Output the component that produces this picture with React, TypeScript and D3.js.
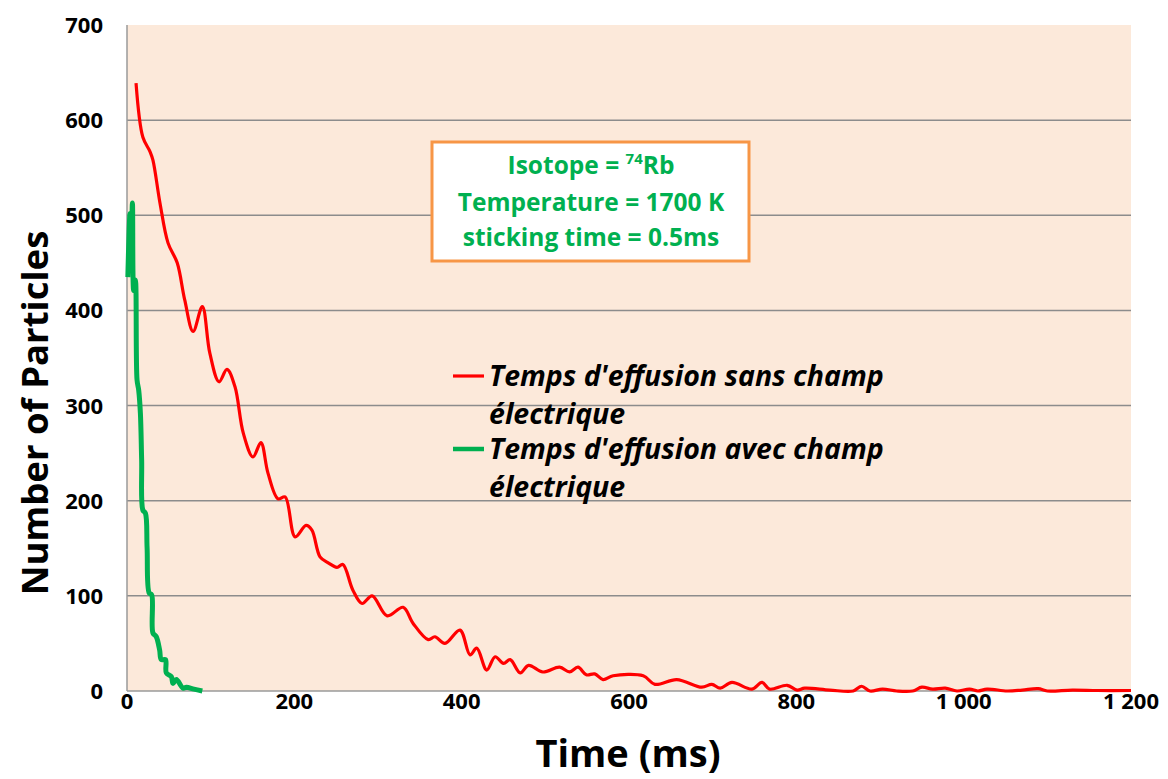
import React from "react";
import * as d3 from "d3";

const redTime = [10.8, 19, 27.5, 31, 39.4, 49, 60, 69, 79, 90, 99, 110, 119.5, 129, 139, 150.6, 160, 168.5, 180.5, 189, 201, 214, 221, 230.7, 240, 251, 258, 270, 281, 293, 311, 330, 342, 360, 368, 380, 398, 410, 418, 430, 440, 450, 458, 470, 480, 497, 517, 529, 539, 549, 559, 569, 581, 617, 631, 657, 687, 699, 709, 723, 747, 759, 768, 789, 801, 810, 840, 868, 878, 888, 903, 920, 939, 950, 963, 978, 992, 1007, 1017, 1028, 1052, 1070, 1089, 1100, 1130, 1160, 1200];
const redValues = [639, 582, 567, 558, 513, 471, 450, 411, 378, 404, 355, 325, 338, 320, 271, 246, 261, 229, 202, 204, 162, 174, 169, 141, 135, 130, 133, 106, 92, 100, 79, 88, 71, 54, 57, 50, 64, 38, 45, 22, 36, 29, 33, 19, 27, 20, 25, 20, 25, 17, 18, 12, 16, 16, 7, 12, 4, 7, 3, 9, 2, 9, 2, 6, 1, 3, 1, 0, 5, 0, 2, 0, 0, 4, 2, 3, 0, 2, 0, 2, 0, 1, 2.4, 0, 1, 0.5, 0.5];

const greenTime = [1, 3.6, 5, 6.5, 8, 10, 12, 14, 16, 17.5, 19, 22, 24, 26.5, 29.5, 31, 35, 39, 41, 46, 47, 53, 55, 59, 67, 71, 80, 90];
const greenValues = [435, 502, 470, 513, 421, 432, 327, 316, 292, 243, 190, 187, 151, 103, 101, 61, 57, 43, 33, 33, 19, 15, 8, 12, 3, 4, 2, 0];

const xTicks = [0, 200, 400, 600, 800, 1000, 1200];
const yTicks = [0, 100, 200, 300, 400, 500, 600, 700];
const legendLabels = [
  ["Temps d'effusion sans champ", "électrique"],
  ["Temps d'effusion avec champ", "électrique"],
];
const infoLines = ["Temperature = 1700 K", "sticking time = 0.5ms"];

const W = 1168;
const H = 779;
const PL = 127, PR = 1131, PT = 25, PB = 691;
const FONT = "'Open Sans', 'DejaVu Sans', sans-serif";

function fmt(v: number) {
  const s = String(v);
  return s.length > 3 ? s.slice(0, s.length - 3) + " " + s.slice(-3) : s;
}

export default function App() {
  const x = d3.scaleLinear().domain([0, 1200]).range([PL, PR]);
  const y = d3.scaleLinear().domain([0, 700]).range([PB, PT]);

  const red = redTime.map((t, i) => [t, redValues[i]] as [number, number]);
  const green = greenTime.map((t, i) => [t, greenValues[i]] as [number, number]);

  const line = d3
    .line<[number, number]>()
    .x((d) => x(d[0]))
    .y((d) => y(d[1]))
    .curve(d3.curveCatmullRom.alpha(0.5));

  const colors = ["#ff0000", "#00b050"];

  return (
    <svg
      width={W}
      height={H}
      style={{ position: "absolute", left: 0, top: 0, background: "#ffffff" }}
      fontFamily={FONT}
    >
      <rect x={PL} y={PT} width={PR - PL} height={PB - PT} fill="#fce9da" />
      {yTicks.filter((v) => v > 0 && v < 700).map((v) => (
        <line key={v} x1={PL} x2={PR} y1={y(v)} y2={y(v)} stroke="#8c8c8c" strokeWidth={1.5} />
      ))}
      <line x1={PL} x2={PL} y1={PT} y2={PB} stroke="#9a9a9a" strokeWidth={1.5} />
      <line x1={PL} x2={PR} y1={PB} y2={PB} stroke="#9a9a9a" strokeWidth={1.5} />

      {yTicks.map((v) => (
        <text key={v} x={103} y={y(v) + 8} textAnchor="end" fontSize={22} fontWeight={700} fill="#000">
          {v}
        </text>
      ))}
      {xTicks.map((v) => (
        <text key={v} x={x(v)} y={709} textAnchor="middle" fontSize={22} fontWeight={700} fill="#000">
          {fmt(v)}
        </text>
      ))}

      <path d={line(red) || ""} fill="none" stroke={colors[0]} strokeWidth={3.2} strokeLinejoin="round" />
      <path d={line(green) || ""} fill="none" stroke={colors[1]} strokeWidth={5} strokeLinejoin="round" />

      <text
        transform="translate(48,413) rotate(-90)"
        textAnchor="middle"
        fontSize={36.5}
        fontWeight={700}
        fill="#000"
      >
        Number of Particles
      </text>
      <text x={628} y={767} textAnchor="middle" fontSize={38} fontWeight={700} fill="#000">
        Time (ms)
      </text>

      <rect x={432} y={142} width={317} height={119} fill="#ffffff" stroke="#f79646" strokeWidth={3} />
      <text x={591} y={174} textAnchor="middle" fontSize={24.5} fontWeight={700} fill="#00b050">
        Isotope = <tspan fontSize={15} dy={-10}>74</tspan>
        <tspan dy={10}>Rb</tspan>
      </text>
      {infoLines.map((s, i) => (
        <text key={s} x={591} y={211 + i * 35} textAnchor="middle" fontSize={24.5} fontWeight={700} fill="#00b050">
          {s}
        </text>
      ))}

      {legendLabels.map((lab, i) => {
        const ly = 376 + i * 73;
        return (
          <g key={i}>
            <line x1={453} x2={484} y1={ly} y2={ly} stroke={colors[i]} strokeWidth={i === 0 ? 3.2 : 4.5} />
            <text x={489} y={ly + 10} fontSize={28.5} fontWeight={700} fontStyle="italic" fill="#000">
              {lab[0]}
            </text>
            <text x={489} y={ly + 48} fontSize={28.5} fontWeight={700} fontStyle="italic" fill="#000">
              {lab[1]}
            </text>
          </g>
        );
      })}
    </svg>
  );
}
